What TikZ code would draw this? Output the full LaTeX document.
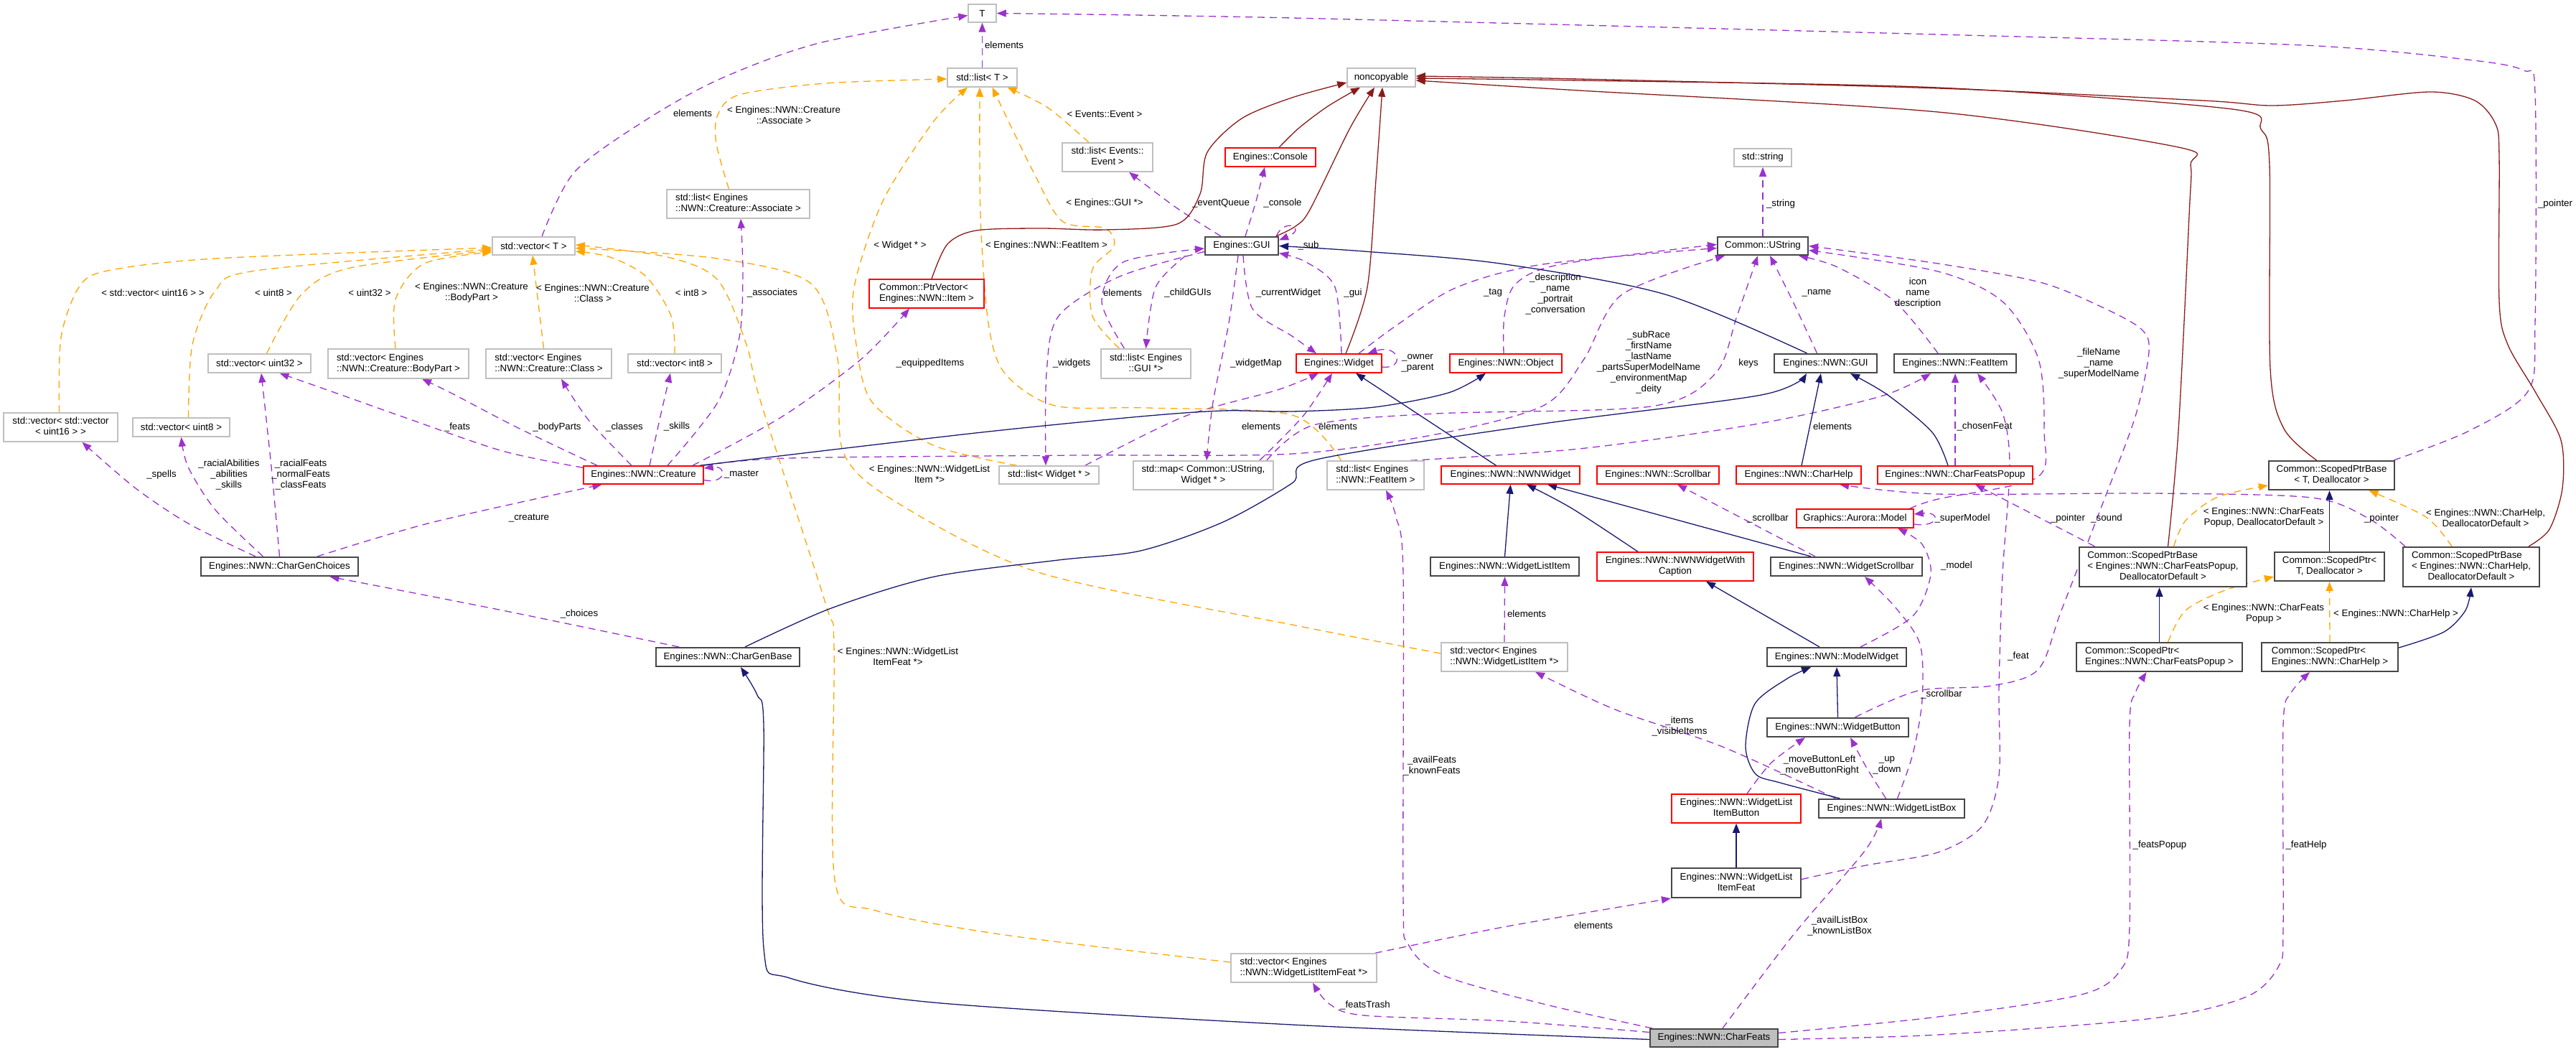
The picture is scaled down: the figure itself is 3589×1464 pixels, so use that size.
\documentclass[tikz,border=0pt]{standalone}
\usepackage{fontspec}
\setmainfont{Liberation Sans}
\usetikzlibrary{arrows.meta}
\definecolor{dxnavy}{HTML}{191970}
\definecolor{dxred}{HTML}{8B1A1A}
\definecolor{dxpurple}{HTML}{9A32CD}
\definecolor{dxorange}{HTML}{FFA500}
\definecolor{dxgray}{HTML}{BFBFBF}
\newcommand\dxfont{\fontsize{13.3pt}{15pt}\selectfont}
\newcommand\dxtwo[2]{\begin{tabular}{@{}l@{}}#1\\\multicolumn{1}{@{}c@{}}{#2}\end{tabular}}
\newcommand\dxthree[3]{\begin{tabular}{@{}l@{}}#1\\#2\\\multicolumn{1}{@{}c@{}}{#3}\end{tabular}}
\pgfdeclarelayer{bg}
\pgfsetlayers{bg,main}
\tikzset{
 dxbase/.style={rectangle, inner sep=2pt, fill=white, font=\dxfont, align=center},
 gbox/.style={dxbase, draw=dxgray, line width=1.5pt},
 rbox/.style={dxbase, draw=red, line width=1.5pt},
 bbox/.style={dxbase, draw=black!72, line width=2.2pt},
 gfill/.style={dxbase, draw=black!72, line width=2.2pt, fill=dxgray},
 lbl/.style={font=\dxfont, align=center, inner sep=0pt},
 mbr/.style={draw=dxpurple, line width=1.3pt, dash pattern=on 10pt off 7pt, -{Triangle[length=13pt,width=10pt]}},
 tmpl/.style={draw=dxorange, line width=1.3pt, dash pattern=on 10pt off 7pt, -{Triangle[length=13pt,width=10pt]}},
 inhe/.style={draw=dxnavy, line width=1.3pt, -{Triangle[length=13pt,width=10pt]}},
 priv/.style={draw=dxred, line width=1.3pt, -{Triangle[length=13pt,width=10pt]}},
}
\begin{document}
\begin{tikzpicture}[x=1pt,y=-1pt]
\useasboundingbox (0,0) rectangle (3589,1464);
% ---------- nodes ----------
\node[gbox,minimum width=39pt,minimum height=25pt] (T) at (1368.5,18.5) {T};
\node[gbox,minimum width=97pt,minimum height=26pt] (listT) at (1368.5,108) {std::list< T >};
\node[gbox,minimum width=115pt,minimum height=25pt] (vecT) at (743.5,342.5) {std::vector< T >};
\node[gbox,minimum width=95pt,minimum height=26pt] (nonc) at (1924.5,108) {noncopyable};
\node[gbox,minimum width=126pt,minimum height=40pt] (listEv) at (1543,219) {\dxtwo{std::list< Events::}{Event >}};
\node[gbox,minimum width=199pt,minimum height=40pt] (listAs) at (1028.5,284) {\dxtwo{std::list< Engines}{::NWN::Creature::Associate >}};
\node[rbox,minimum width=126pt,minimum height=26pt] (console) at (1770,219) {Engines::Console};
\node[rbox,minimum width=160pt,minimum height=40pt] (ptrvec) at (1291,409) {\dxtwo{Common::PtrVector<}{Engines::NWN::Item >}};
\node[bbox,minimum width=102pt,minimum height=25pt] (gui) at (1730,342.5) {Engines::GUI};
\node[gbox,minimum width=80pt,minimum height=25pt] (sstr) at (2456,219.5) {std::string};
\node[bbox,minimum width=126pt,minimum height=25pt] (ustr) at (2456,342.5) {Common::UString};
\node[gbox,minimum width=159pt,minimum height=40pt] (vecv16) at (84.5,595) {\dxtwo{std::vector< std::vector}{< uint16 > >}};
\node[gbox,minimum width=135pt,minimum height=26pt] (vecu8) at (252.5,595) {std::vector< uint8 >};
\node[gbox,minimum width=143pt,minimum height=26pt] (vecu32) at (361.5,506) {std::vector< uint32 >};
\node[gbox,minimum width=196pt,minimum height=41pt] (vecBP) at (555,506.5) {\dxtwo{std::vector< Engines}{::NWN::Creature::BodyPart >}};
\node[gbox,minimum width=175pt,minimum height=41pt] (vecCl) at (764.5,506.5) {\dxtwo{std::vector< Engines}{::NWN::Creature::Class >}};
\node[gbox,minimum width=130pt,minimum height=26pt] (veci8) at (940,506) {std::vector< int8 >};
\node[gbox,minimum width=125pt,minimum height=41pt] (listGUI) at (1596.5,506.5) {\dxtwo{std::list< Engines}{::GUI *>}};
\node[rbox,minimum width=119pt,minimum height=26pt] (widget) at (1865.5,506) {Engines::Widget};
\node[rbox,minimum width=156pt,minimum height=26pt] (object) at (2098,506) {Engines::NWN::Object};
\node[bbox,minimum width=143pt,minimum height=26pt] (nwngui) at (2543.5,506) {Engines::NWN::GUI};
\node[bbox,minimum width=170pt,minimum height=26pt] (featitem) at (2724,506) {Engines::NWN::FeatItem};
\node[rbox,minimum width=167pt,minimum height=25pt] (creature) at (896.5,661.5) {Engines::NWN::Creature};
\node[gbox,minimum width=139pt,minimum height=25pt] (listW) at (1461.5,661.5) {std::list< Widget * >};
\node[gbox,minimum width=195pt,minimum height=40pt] (mapW) at (1676.5,662) {\dxtwo{std::map< Common::UString,}{Widget * >}};
\node[gbox,minimum width=135pt,minimum height=40pt] (listFI) at (1916.5,662) {\dxtwo{std::list< Engines}{::NWN::FeatItem >}};
\node[rbox,minimum width=193pt,minimum height=25pt] (nwnw) at (2104.5,661.5) {Engines::NWN::NWNWidget};
\node[rbox,minimum width=170pt,minimum height=25pt] (scroll) at (2310,661.5) {Engines::NWN::Scrollbar};
\node[rbox,minimum width=174pt,minimum height=25pt] (chelp) at (2506,661.5) {Engines::NWN::CharHelp};
\node[rbox,minimum width=216pt,minimum height=25pt] (cfpop) at (2724,661.5) {Engines::NWN::CharFeatsPopup};
\node[rbox,minimum width=163pt,minimum height=26pt] (model) at (2584.5,722) {Graphics::Aurora::Model};
\node[bbox,minimum width=219pt,minimum height=26pt] (cgc) at (389.5,789) {Engines::NWN::CharGenChoices};
\node[bbox,minimum width=207pt,minimum height=26pt] (wli) at (2096.5,789) {Engines::NWN::WidgetListItem};
\node[rbox,minimum width=218pt,minimum height=40pt] (wcap) at (2334,789) {\dxtwo{Engines::NWN::NWNWidgetWith}{Caption}};
\node[bbox,minimum width=211pt,minimum height=26pt] (wscroll) at (2572.5,789) {Engines::NWN::WidgetScrollbar};
\node[bbox,minimum width=175pt,minimum height=40pt] (spbT) at (3248.5,662) {\dxtwo{Common::ScopedPtrBase}{< T, Deallocator >}};
\node[bbox,minimum width=233pt,minimum height=55pt] (spbCFP) at (3013.5,789.5) {\dxthree{Common::ScopedPtrBase}{< Engines::NWN::CharFeatsPopup,}{DeallocatorDefault >}};
\node[bbox,minimum width=153pt,minimum height=40pt] (spT) at (3245.5,789) {\dxtwo{Common::ScopedPtr<}{T, Deallocator >}};
\node[bbox,minimum width=190pt,minimum height=55pt] (spbCH) at (3443,789.5) {\dxthree{Common::ScopedPtrBase}{< Engines::NWN::CharHelp,}{DeallocatorDefault >}};
\node[bbox,minimum width=200pt,minimum height=26pt] (cgb) at (1014,915) {Engines::NWN::CharGenBase};
\node[gbox,minimum width=176pt,minimum height=40pt] (vecWLI) at (2096,915) {\dxtwo{std::vector< Engines}{::NWN::WidgetListItem *>}};
\node[bbox,minimum width=194pt,minimum height=26pt] (modelw) at (2559,915) {Engines::NWN::ModelWidget};
\node[bbox,minimum width=231pt,minimum height=40pt] (spCFP) at (3008.5,915) {\dxtwo{Common::ScopedPtr<}{Engines::NWN::CharFeatsPopup >}};
\node[bbox,minimum width=190pt,minimum height=40pt] (spCH) at (3246,915) {\dxtwo{Common::ScopedPtr<}{Engines::NWN::CharHelp >}};
\node[bbox,minimum width=197pt,minimum height=26pt] (wbtn) at (2560.5,1013) {Engines::NWN::WidgetButton};
\node[rbox,minimum width=180pt,minimum height=40pt] (wlib) at (2419,1126) {\dxtwo{Engines::NWN::WidgetList}{ItemButton}};
\node[bbox,minimum width=203pt,minimum height=26pt] (wlbox) at (2635.5,1126) {Engines::NWN::WidgetListBox};
\node[bbox,minimum width=180pt,minimum height=41pt] (wlif) at (2419,1229.5) {\dxtwo{Engines::NWN::WidgetList}{ItemFeat}};
\node[gbox,minimum width=203pt,minimum height=40pt] (vecWLIF) at (1816.5,1348) {\dxtwo{std::vector< Engines}{::NWN::WidgetListItemFeat *>}};
\node[gfill,minimum width=178pt,minimum height=25pt] (cfeats) at (2388,1445.5) {Engines::NWN::CharFeats};
% ---------- edges ----------
\begin{pgfonlayer}{bg}
% member (purple dashed)
\draw[mbr] plot[smooth] coordinates {([xshift=11.5pt]vecT.north) (800,240) (900,167) (1003,110) (1141,60) ([yshift=-3pt]T.west)};
\draw[mbr] (listT.north) -- (T.south);
\draw[mbr] plot[smooth] coordinates {([xshift=-2pt]spbT.north east) (3440,600) (3522,545) (3532,450) (3532,130) (3516,98) (3437,83) (3210,63) (2700,48) (1800,25) (T.east)};
\draw[mbr] (ustr.north) -- (sstr.south);
\draw[mbr] plot[smooth] coordinates {([xshift=33.5pt]creature.north) (1000,560) (1030,470) (1035,380) ([xshift=3.5pt]listAs.south)};
\draw[mbr] plot[smooth] coordinates {([xshift=68.5pt]creature.north) (1090,580) (1200,500) ([xshift=-24pt]ptrvec.south)};
\draw[mbr] plot[smooth] coordinates {([yshift=-3pt]creature.north west) (700,628) (560,580) (470,548) ([xshift=28pt]vecu32.south)};
\draw[mbr] plot[smooth] coordinates {([xshift=-64.5pt]creature.north) (720,595) (630,548) ([xshift=33pt]vecBP.south)};
\draw[mbr] plot[smooth] coordinates {([xshift=-16.5pt]creature.north) (820,585) ([xshift=17.5pt]vecCl.south)};
\draw[mbr] plot[smooth] coordinates {([xshift=8.5pt]creature.north) (920,580) ([xshift=-6pt]veci8.south)};
\draw[mbr] ([yshift=-7pt]creature.east) .. controls (1012,675) and (1014,648) .. ([yshift=9.5pt]creature.east);
\draw[mbr] plot[smooth] coordinates {([xshift=52.5pt]cgc.north) (600,728) ([xshift=-58pt]creature.south)};
\draw[mbr] plot[smooth] coordinates {([xshift=-33.5pt]cgc.north) (264,730) (189,680) ([xshift=30pt]vecv16.south)};
\draw[mbr] plot[smooth] coordinates {([xshift=-23pt]cgc.north) (300,710) (262,650) (vecu8.south)};
\draw[mbr] plot[smooth] coordinates {(cgc.north) (378,650) ([xshift=2.5pt]vecu32.south)};
\draw[mbr] plot[smooth] coordinates {([xshift=-68pt]cgb.north) (700,850) ([xshift=70pt]cgc.south)};
\draw[mbr] plot[smooth] coordinates {([xshift=-29pt]gui.north) (1640,290) ([xshift=30pt]listEv.south)};
\draw[mbr] plot[smooth] coordinates {([xshift=5pt]gui.north) (1750,280) ([xshift=-8pt]console.south)};
\draw[mbr] plot[smooth] coordinates {([xshift=-78pt]gui.south) (1610,400) (listGUI.north)};
\draw[mbr] plot[smooth] coordinates {([xshift=-30pt]listGUI.north) (1535,420) (1565,365) ([yshift=-3.5pt]gui.west)};
\draw[mbr] plot[smooth] coordinates {([yshift=-8pt]gui.west) (1560,385) (1475,440) (1458,520) ([xshift=-4.5pt]listW.north)};
\draw[mbr] plot[smooth] coordinates {([xshift=-5pt]gui.south) (1712,450) (1690,560) ([xshift=4.5pt]mapW.north)};
\draw[mbr] plot[smooth] coordinates {([xshift=2pt]gui.south) (1745,430) (1800,468) ([xshift=-31.5pt]widget.north)};
\draw[mbr] plot[smooth] coordinates {([xshift=3.5pt]widget.north) (1860,400) (1820,365) ([yshift=-10pt]gui.east)};
\draw[mbr] ([xshift=-4pt]gui.north east) .. controls (1790,302) and (1822,318) .. ([yshift=8pt]gui.east);
\draw[mbr] ([yshift=-5pt]widget.east) .. controls (1958,515) and (1950,478) .. ([xshift=40pt]widget.north);
\draw[mbr] plot[smooth] coordinates {([xshift=27.5pt]widget.north) (1950,450) (2030,400) (2150,368) ([yshift=-3pt]ustr.west)};
\draw[mbr] plot[smooth] coordinates {([xshift=-3pt]object.north) (2096,440) (2112,395) (2175,368) ([yshift=2pt]ustr.west)};
\draw[mbr] plot[smooth] coordinates {(creature.north east) (1100,638) (1500,634) (1800,632) (2000,605) (2150,565) (2207,500) (2260,410) ([xshift=-53pt]ustr.south)};
\draw[mbr] plot[smooth] coordinates {([xshift=-10pt]mapW.north east) (1830,592) (2000,576) (2300,566) (2390,520) (2420,440) ([xshift=-7pt]ustr.south)};
\draw[mbr] plot[smooth] coordinates {([xshift=-20pt]mapW.north east) (1815,580) ([xshift=-9.5pt]widget.south)};
\draw[mbr] plot[smooth] coordinates {([xshift=-20pt]listW.north east) (1650,580) (1780,543) ([xshift=-28.5pt]widget.south)};
\draw[mbr] plot[smooth] coordinates {([xshift=-12pt]nwngui.north) (2498,420) ([xshift=10pt]ustr.south)};
\draw[mbr] plot[smooth] coordinates {([xshift=-24pt]featitem.north) (2640,420) (2560,372) ([xshift=50pt]ustr.south)};
\draw[mbr] plot[smooth] coordinates {([xshift=-6pt]model.north east) (2700,695) (2838,665) (2848,600) (2840,500) (2790,420) (2700,378) ([yshift=-6pt]ustr.east)};
\draw[mbr] ([yshift=-8pt]model.east) .. controls (2702,735) and (2705,712) .. ([yshift=6pt]model.east);
\draw[mbr] plot[smooth] coordinates {([xshift=24pt]wbtn.north) (2672,962) (2775,955) (2840,932) (2872,850) (2930,700) (2975,580) (2994,490) (2983,458) (2927,427) (2842,393) (2700,367) (ustr.east)};
\draw[mbr] (cfpop.north) -- (featitem.south);
\draw[mbr] plot[smooth] coordinates {([yshift=5pt]wlif.east) (2600,1205) (2700,1187) (2762,1150) (2785,1080) (2785,960) (2790,800) (2800,650) (2790,575) ([xshift=31pt]featitem.south)};
\draw[mbr] plot[smooth] coordinates {([xshift=8pt]wlbox.north) (2665,1050) (2678,975) (2675,897) (2640,845) ([xshift=25.5pt]wscroll.south)};
\draw[mbr] plot[smooth] coordinates {([xshift=-8pt]wlbox.north) (2600,1068) ([xshift=17.5pt]wbtn.south)};
\draw[mbr] plot[smooth] coordinates {([xshift=15pt]wlib.north) (2468,1062) ([xshift=-45.5pt]wbtn.south)};
\draw[mbr] plot[smooth] coordinates {([xshift=-78pt]wlbox.north) (2400,1040) (2250,988) ([xshift=43pt]vecWLI.south)};
\draw[mbr] (vecWLI.north) -- (wli.south);
\draw[mbr] plot[smooth] coordinates {([xshift=33pt]modelw.north) (2665,858) (2690,800) (2678,758) ([xshift=59.5pt]model.south)};
\draw[mbr] plot[smooth] coordinates {([xshift=-43.5pt]wscroll.north) (2420,718) ([xshift=27pt]scroll.south)};
\draw[mbr] plot[smooth] coordinates {([xshift=-95pt]spbCFP.north) (2830,715) ([xshift=28pt]cfpop.south)};
\draw[mbr] plot[smooth] coordinates {([xshift=-92pt]spbCH.north) (3300,722) (3220,693) (3000,687) (2700,688) ([xshift=57pt]chelp.south)};
\draw[mbr] plot[smooth] coordinates {([yshift=7pt]cfeats.east) (2700,1416) (2900,1385) (2955,1350) (2967,1290) (2967,1010) (2975,965) ([xshift=-18pt]spCFP.south)};
\draw[mbr] plot[smooth] coordinates {([yshift=-2pt]cfeats.east) (2700,1441) (3000,1418) (3130,1388) (3175,1345) (3181,1290) (3181,1010) (3192,965) ([xshift=-28pt]spCH.south)};
\draw[mbr] plot[smooth] coordinates {([xshift=12pt]cfeats.north) (2500,1300) (2598,1185) ([xshift=-14.5pt]wlbox.south)};
\draw[mbr] plot[smooth] coordinates {([xshift=-3pt]vecWLIF.north east) (2100,1290) (wlif.south west)};
\draw[mbr] plot[smooth] coordinates {([yshift=8pt]cfeats.west) (2100,1422) (1900,1414) (1852,1398) ([xshift=12.5pt]vecWLIF.south)};
\draw[mbr] plot[smooth] coordinates {([xshift=4pt]cfeats.north west) (2150,1398) (2010,1358) (1962,1315) (1955,1250) (1955,800) (1945,720) ([xshift=14.5pt]listFI.south)};
\draw[mbr] plot[smooth] coordinates {([xshift=-20pt]listFI.north east) (2200,625) (2450,590) (2620,552) ([xshift=-34pt]featitem.south)};
% template (orange dashed)
\draw[tmpl] plot[smooth] coordinates {([xshift=-2pt]vecv16.north) (85,470) (110,400) (150,377) (300,360) ([yshift=-2.5pt]vecT.west)};
\draw[tmpl] plot[smooth] coordinates {([xshift=10pt]vecu8.north) (268,480) (300,405) (356,377) ([yshift=-4.5pt]vecT.west)};
\draw[tmpl] plot[smooth] coordinates {([xshift=10pt]vecu32.north) (420,410) (488,373) ([yshift=-6.5pt]vecT.west)};
\draw[tmpl] plot[smooth] coordinates {([xshift=-4pt]vecBP.north) (551,417) (591,367) ([yshift=-8.5pt]vecT.west)};
\draw[tmpl] ([xshift=-7pt]vecCl.north) -- ([xshift=-1.5pt]vecT.south);
\draw[tmpl] plot[smooth] coordinates {(veci8.north) (935,440) (900,385) (850,358) ([yshift=-7.5pt]vecT.east)};
\draw[tmpl] plot[smooth] coordinates {([yshift=5pt]vecWLI.west) (1800,870) (1450,798) (1250,700) (1175,630) (1167,500) (1130,395) (1000,360) ([yshift=-3pt]vecT.east)};
\draw[tmpl] plot[smooth] coordinates {([yshift=8pt]vecWLIF.west) (1400,1302) (1220,1268) (1163,1225) (1162,900) (1150,840) (1060,560) (1040,480) (1000,390) (930,358) ([yshift=1.5pt]vecT.east)};
\draw[tmpl] plot[smooth] coordinates {([xshift=-13pt]listAs.north) (998,200) (1000,160) (1030,132) (1150,116) ([yshift=-2pt]listT.west)};
\draw[tmpl] plot[smooth] coordinates {([xshift=-45pt]listW.north) (1300,620) (1215,560) (1193,480) (1190,400) (1230,280) (1300,170) ([xshift=-20.5pt]listT.south)};
\draw[tmpl] plot[smooth] coordinates {([xshift=-48pt]listFI.north) (1800,578) (1600,568) (1470,565) (1400,520) (1377,450) (1366,300) ([xshift=-3.5pt]listT.south)};
\draw[tmpl] plot[smooth] coordinates {([xshift=-37pt]listGUI.north) (1522,440) (1522,375) (1552,343) (1540,318) (1480,308) (1440,240) ([xshift=14pt]listT.south)};
\draw[tmpl] plot[smooth] coordinates {([xshift=-26pt]listEv.north) (1460,150) ([xshift=35pt]listT.south)};
\draw[tmpl] plot[smooth] coordinates {([xshift=15pt]spbCFP.north) (3045,725) (3090,692) ([yshift=-14pt]spbT.west)};
\draw[tmpl] plot[smooth] coordinates {([xshift=-27pt]spbCH.north) (3380,720) ([xshift=52pt]spbT.south)};
\draw[tmpl] plot[smooth] coordinates {([xshift=12pt]spCFP.north) (3045,850) (3100,822) ([yshift=-14pt]spT.west)};
\draw[tmpl] (spCH.north) -- (spT.south);
% inheritance (navy)
\draw[inhe] plot[smooth] coordinates {([yshift=-2pt]cfeats.west) (1800,1427) (1300,1396) (1100,1362) (1064,1320) (1064,1010) (1055,968) ([xshift=18pt]cgb.south)};
\draw[inhe] plot[smooth] coordinates {([xshift=24pt]cgb.north) (1158,847) (1302,803) (1474,780) (1589,767) (1704,727) (1800,673) (1834,640) (2150,590) (2454,550) ([xshift=-26.5pt]nwngui.south)};
\draw[inhe] plot[smooth] coordinates {([xshift=-6pt]creature.north east) (1359,603) (1589,580) (1704,572) (1800,573) (1915,567) (2018,547) ([xshift=-28pt]object.south)};
\draw[inhe] ([xshift=-20pt]nwnw.north) -- ([xshift=23.5pt]widget.south);
\draw[inhe] plot[smooth] coordinates {([xshift=-26pt]nwngui.north) (2320,410) (2090,367) (1900,350) (gui.east)};
\draw[inhe] ([xshift=4pt]chelp.north) -- ([xshift=-6.5pt]nwngui.south);
\draw[inhe] plot[smooth] coordinates {([xshift=-10pt]cfpop.north) (2692,602) (2630,550) ([xshift=34.5pt]nwngui.south)};
\draw[inhe] (wli.north) -- (nwnw.south);
\draw[inhe] plot[smooth] coordinates {([xshift=-52pt]wcap.north) (2190,708) ([xshift=22.5pt]nwnw.south)};
\draw[inhe] ([xshift=-49.5pt]wscroll.north) -- ([xshift=51.5pt]nwnw.south);
\draw[inhe] ([xshift=-24pt]modelw.north) -- ([xshift=43pt]wcap.south);
\draw[inhe] (wbtn.north) -- (modelw.south);
\draw[inhe] plot[smooth] coordinates {([xshift=-72pt]wlbox.north) (2480,1090) (2446,1078) (2432,1040) (2445,980) (2490,945) ([xshift=-36pt]modelw.south)};
\draw[inhe] (wlif.north) -- (wlib.south);
\draw[inhe] (spT.north) -- ([xshift=-3pt]spbT.south);
\draw[inhe] (spCFP.north) -- ([xshift=-5pt]spbCFP.south);
\draw[inhe] plot[smooth] coordinates {([yshift=13pt]spCH.east) (3405,880) (3435,850) (spbCH.south)};
% private inheritance (dark red)
\draw[priv] plot[smooth] coordinates {([xshift=12pt]console.north) (1810,178) (1850,148) ([xshift=-29.5pt]nonc.south)};
\draw[priv] plot[smooth] coordinates {([xshift=48pt]gui.north) (1805,315) (1825,292) (1880,180) ([xshift=-9.5pt]nonc.south)};
\draw[priv] plot[smooth] coordinates {([xshift=9.5pt]widget.north) (1905,400) (1917,250) ([xshift=1.5pt]nonc.south)};
\draw[priv] plot[smooth] coordinates {([xshift=7pt]ptrvec.north) (1320,340) (1360,321) (1450,318) (1540,320) (1640,312) (1672,270) (1682,212) (1730,165) (1800,136) ([yshift=-7pt]nonc.west)};
\draw[priv] plot[smooth] coordinates {([xshift=7pt]spbCFP.north) (3035,600) (3050,300) (3052,230) (3035,205) (2700,156) (2200,126) ([yshift=-4pt]nonc.east)};
\draw[priv] plot[smooth] coordinates {([xshift=-21pt]spbT.north) (3182,597) (3163,513) (3162,230) (3150,180) (3110,152) (2700,122) (2200,112) ([yshift=-1pt]nonc.east)};
\draw[priv] plot[smooth] coordinates {([xshift=80pt]spbCH.north) (3552,737) (3570,680) (3568,613) (3533,547) (3494,480) (3482,420) (3482,220) (3477,173) (3448,140) (3386,128) (3267,140) (3165,147) (3069,140) (2700,123) (2200,110) ([yshift=2pt]nonc.east)};
\end{pgfonlayer}
% ---------- edge labels ----------
\node[lbl] (lb1) at (965,158) {elements};
\node[lbl] (lb2) at (1399,63) {elements};
\node[lbl] (lb3) at (3560,284) {\_pointer};
\node[lbl] (lb4) at (213,408) {< std::vector< uint16 > >};
\node[lbl] (lb5) at (381,408) {< uint8 >};
\node[lbl] (lb6) at (515,408) {< uint32 >};
\node[lbl] (lb7) at (657,408) {< Engines::NWN::Creature\\::BodyPart >};
\node[lbl] (lb8) at (826,408) {< Engines::NWN::Creature\\::Class >};
\node[lbl] (lb9) at (963,408) {< int8 >};
\node[lbl] (lb10) at (1092,160) {< Engines::NWN::Creature\\::Associate >};
\node[lbl] (lb11) at (1539,159) {< Events::Event >};
\node[lbl] (lb12) at (1539,283) {< Engines::GUI *>};
\node[lbl] (lb13) at (1701,283) {\_eventQueue};
\node[lbl] (lb14) at (1787,283) {\_console};
\node[lbl] (lb15) at (1254,342) {< Widget * >};
\node[lbl] (lb16) at (1458,342) {< Engines::NWN::FeatItem >};
\node[lbl] (lb17) at (1823,342) {\_sub};
\node[lbl] (lb18) at (2481,284) {\_string};
\node[lbl] (lb19) at (1076,408) {\_associates};
\node[lbl] (lb20) at (1564,408) {elements};
\node[lbl] (lb21) at (1655,408) {\_childGUIs};
\node[lbl] (lb22) at (1795,408) {\_currentWidget};
\node[lbl] (lb23) at (1885,408) {\_gui};
\node[lbl] (lb24) at (2080,408) {\_tag};
\node[lbl] (lb25) at (2167,409) {\_description\\\_name\\\_portrait\\\_conversation};
\node[lbl] (lb26) at (2531,408) {\_name};
\node[lbl] (lb27) at (2672,408) {icon\\name\\description};
\node[lbl] (lb28) at (2297,505) {\_subRace\\\_firstName\\\_lastName\\\_partsSuperModelName\\\_environmentMap\\\_deity};
\node[lbl] (lb29) at (1975,506) {\_owner\\\_parent};
\node[lbl] (lb30) at (2436,506) {keys};
\node[lbl] (lb31) at (1296,506) {\_equippedItems};
\node[lbl] (lb32) at (1493,506) {\_widgets};
\node[lbl] (lb33) at (1750,506) {\_widgetMap};
\node[lbl] (lb34) at (2924,506) {\_fileName\\\_name\\\_superModelName};
\node[lbl] (lb35) at (225,661) {\_spells};
\node[lbl] (lb36) at (319,661) {\_racialAbilities\\\_abilities\\\_skills};
\node[lbl] (lb37) at (419,661) {\_racialFeats\\\_normalFeats\\\_classFeats};
\node[lbl] (lb38) at (637,595) {\_feats};
\node[lbl] (lb39) at (776,595) {\_bodyParts};
\node[lbl] (lb40) at (870,595) {\_classes};
\node[lbl] (lb41) at (943,594) {\_skills};
\node[lbl] (lb42) at (1757,594) {elements};
\node[lbl] (lb43) at (1864,594) {elements};
\node[lbl] (lb44) at (2553,594) {elements};
\node[lbl] (lb45) at (2765,594) {\_chosenFeat};
\node[lbl] (lb46) at (1033,661) {\_master};
\node[lbl] (lb47) at (1295,660) {< Engines::NWN::WidgetList\\Item *>};
\node[lbl] (lb48) at (737,722) {\_creature};
\node[lbl] (lb49) at (2463,722) {\_scrollbar};
\node[lbl] (lb50) at (2734,722) {\_superModel};
\node[lbl] (lb51) at (2881,722) {\_pointer};
\node[lbl] (lb52) at (2935,722) {\_sound};
\node[lbl] (lb53) at (3154,721) {< Engines::NWN::CharFeats\\Popup, DeallocatorDefault >};
\node[lbl] (lb54) at (3318,722) {\_pointer};
\node[lbl] (lb55) at (3463,721) {< Engines::NWN::CharHelp,\\DeallocatorDefault >};
\node[lbl] (lb56) at (2726,788) {\_model};
\node[lbl] (lb57) at (807,855) {\_choices};
\node[lbl] (lb58) at (2127,855) {elements};
\node[lbl] (lb59) at (3154,855) {< Engines::NWN::CharFeats\\Popup >};
\node[lbl] (lb60) at (3338,855) {< Engines::NWN::CharHelp >};
\node[lbl] (lb61) at (1251,914) {< Engines::NWN::WidgetList\\ItemFeat *>};
\node[lbl] (lb62) at (2812,914) {\_feat};
\node[lbl] (lb63) at (2705,967) {\_scrollbar};
\node[lbl] (lb64) at (2340,1011) {\_items\\\_visibleItems};
\node[lbl] (lb65) at (2535,1066) {\_moveButtonLeft\\\_moveButtonRight};
\node[lbl] (lb66) at (2629,1066) {\_up\\\_down};
\node[lbl] (lb67) at (1995,1066) {\_availFeats\\\_knownFeats};
\node[lbl] (lb68) at (3009,1177) {\_featsPopup};
\node[lbl] (lb69) at (3213,1177) {\_featHelp};
\node[lbl] (lb70) at (2563,1289) {\_availListBox\\\_knownListBox};
\node[lbl] (lb71) at (2220,1289) {elements};
\node[lbl] (lb72) at (1902,1400) {\_featsTrash};
\end{tikzpicture}
\end{document}
